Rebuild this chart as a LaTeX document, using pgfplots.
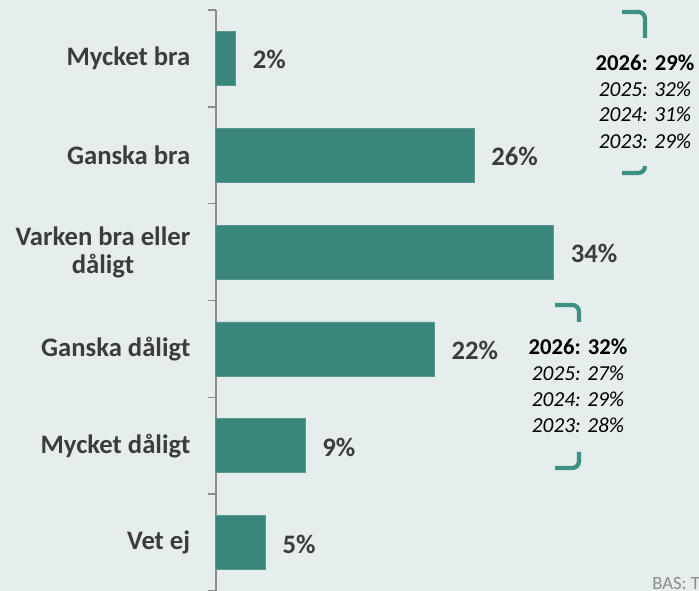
\documentclass[border=0pt]{standalone}
\usepackage{fontspec}
\setmainfont{Carlito}
\usepackage{pgfplots}
\pgfplotsset{compat=1.18}
\definecolor{bg}{HTML}{E6EEED}
\definecolor{bar}{HTML}{3B867C}
\definecolor{txt}{HTML}{3C3C3C}
\definecolor{axgray}{HTML}{8C8C8C}
\definecolor{brk}{HTML}{3E9084}
\begin{document}
% 1 unit = 1 px of the 699x591 reference (0.75pt), y measured upwards
\begin{tikzpicture}[x=0.75pt,y=0.75pt]
\fill[bg] (0,0) rectangle (699,591);
\useasboundingbox (0,0) rectangle (699,591);
\begin{scope}
\clip (0,0) rectangle (699,591);
\begin{axis}[
    at={(217,0)}, anchor=south west,
    scale only axis,
    width=357.75pt, height=435.75pt,
    xbar, bar width=40.5pt, bar shift=0pt,
    xmin=0, xmax=48,
    ymin=-0.5, ymax=5.5,
    y dir=reverse,
    axis x line=none,
    axis y line*=left,
    y axis line style={axgray, line width=1.5pt},
    ytick={0,1,2,3,4,5},
    yticklabels={Mycket bra, Ganska bra, {Varken bra eller\\dåligt}, Ganska dåligt, Mycket dåligt, Vet ej},
    yticklabel style={font=\fontsize{20}{21}\selectfont\bfseries, text=txt, align=center, xshift=-15.5pt},
    major tick length=0pt,
    minor ytick={-0.5,0.5,1.5,2.5,3.5,4.5,5.5},
    minor tick length=6pt,
    tick align=outside,
    minor tick style={axgray, line width=1.2pt},
    /pgf/number format/assume math mode=true,
    nodes near coords={\pgfmathprintnumber{\pgfplotspointmeta}\%},
    point meta=x,
    every node near coord/.append style={font=\fontsize{20}{22}\selectfont\bfseries, text=txt, anchor=west, inner sep=0pt, xshift=12.75pt, yshift=-1pt},
    clip=false,
]
\addplot[fill=bar, draw=bar!85!white] coordinates {(2,0) (26,1) (34,2) (22,3) (9,4) (5,5)};
\end{axis}
% brackets and comparison figures
\draw[brk, line width=3.2pt, rounded corners=5pt] (622,579) -- (645,579) -- (645,553);
\draw[brk, line width=3.2pt, rounded corners=5pt] (622,418) -- (645,418) -- (645,424);
\draw[brk, line width=3.2pt, rounded corners=5pt] (555,286) -- (579,286) -- (579,269);
\draw[brk, line width=3.2pt, rounded corners=5pt] (555,123) -- (579,123) -- (579,139);
\node[font=\fontsize{17}{20}\selectfont\bfseries] at (645,528) {2026: 29\%};
\node[font=\fontsize{16}{19}\selectfont\itshape] at (645,502) {2025: 32\%};
\node[font=\fontsize{16}{19}\selectfont\itshape] at (645,477) {2024: 31\%};
\node[font=\fontsize{16}{19}\selectfont\itshape] at (645,450) {2023: 29\%};
\node[font=\fontsize{17}{20}\selectfont\bfseries] at (578,244) {2026: 32\%};
\node[font=\fontsize{16}{19}\selectfont\itshape] at (578,218) {2025: 27\%};
\node[font=\fontsize{16}{19}\selectfont\itshape] at (578,192) {2024: 29\%};
\node[font=\fontsize{16}{19}\selectfont\itshape] at (578,166) {2023: 28\%};
\node[font=\fontsize{14}{16}\selectfont, text=axgray, anchor=south west, inner sep=0pt] at (652,1) {BAS: T};
\end{scope}
\end{tikzpicture}
\end{document}
